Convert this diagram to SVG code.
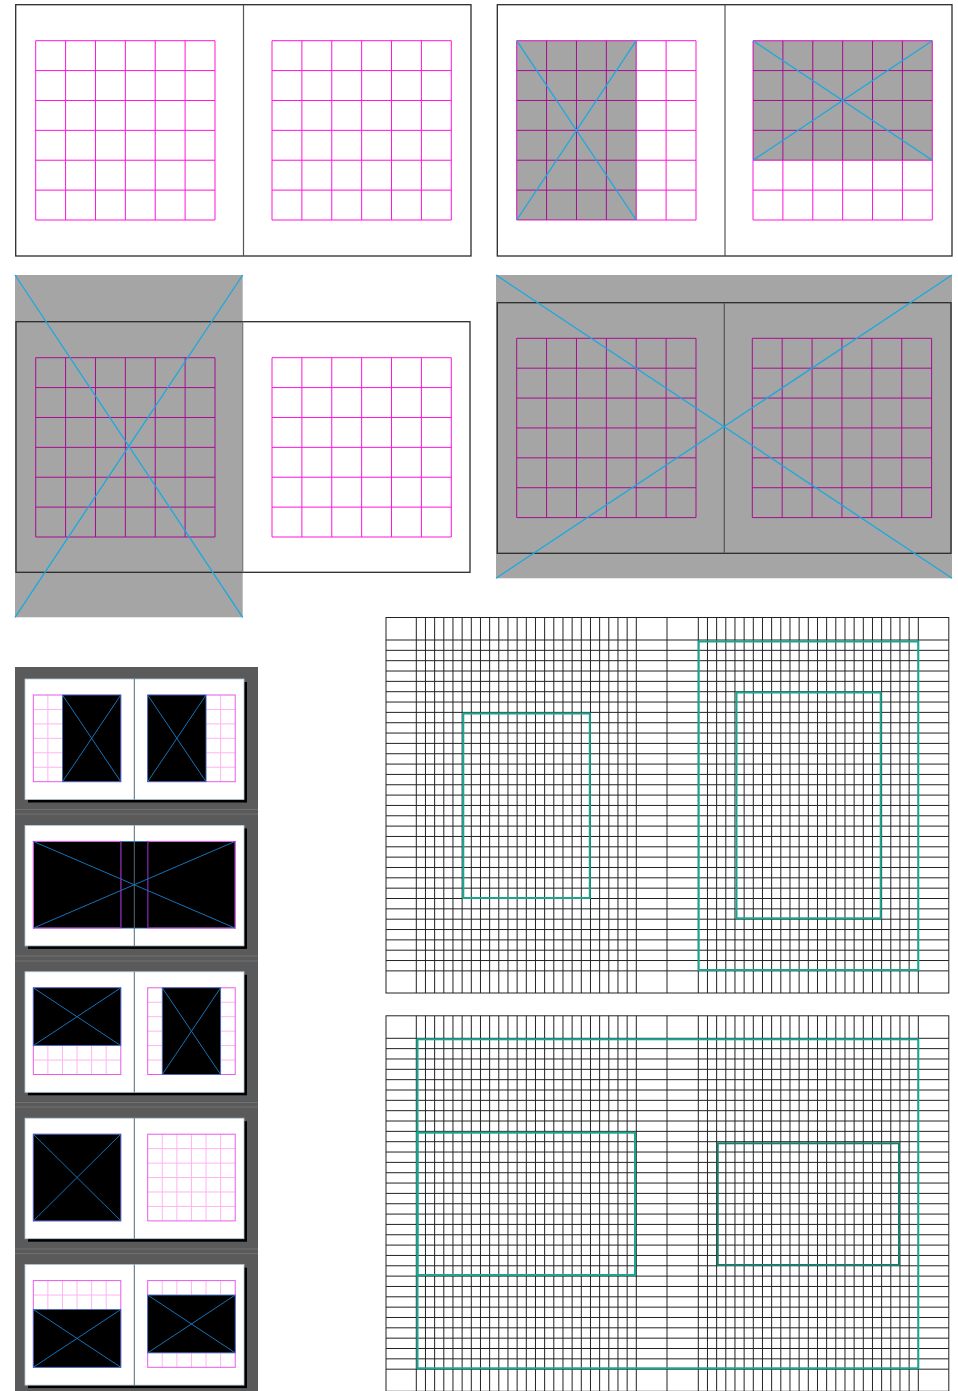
<svg xmlns="http://www.w3.org/2000/svg" xmlns:xlink="http://www.w3.org/1999/xlink" width="958" height="1391" viewBox="0 0 958 1391">
<defs>
<style>
.page{fill:#fff;stroke:#2b2b2b;stroke-width:1.3}
.pageb{fill:none;stroke:#2b2b2b;stroke-width:1.3}
.spine{stroke:#555;stroke-width:1.2}
.mg{fill:none;stroke:#ff14dc;stroke-width:1}
.gray{fill:#a5a5a5;mix-blend-mode:multiply}
.x{stroke:#1ba8e0;stroke-width:1.3;fill:none}
.gl{fill:none;stroke:#222;stroke-width:1}
.teal{fill:none;stroke:#1aa58e;stroke-width:2}
.teal2{fill:none;stroke:#167d6c;stroke-width:2}
.tpage{fill:#fff;stroke:#b0c8dc;stroke-width:.8}
.shadow{fill:#000}
.tg{fill:none;stroke:#ffb4f2;stroke-width:1}
.tgo{fill:none;stroke:#e85ae8;stroke-width:1}
.blk{fill:#000;stroke:#3a78c8;stroke-width:.8}
.tx{stroke:#1572b8;stroke-width:1;fill:none}
.tsp{stroke:#4f6b78;stroke-width:1}
.groove{stroke:#717171;stroke-width:1}
.purp{stroke:#5b1c8c;stroke-width:1.2}
</style>
<path id="g6" d="M0 0H179.3V179.3H0Z M29.88 0V179.3M59.77 0V179.3M89.65 0V179.3M119.53 0V179.3M149.42 0V179.3M0 29.88H179.3M0 59.77H179.3M0 89.65H179.3M0 119.53H179.3M0 149.42H179.3"/>
<path id="tgrid" d="M14.58 0V86.7M29.17 0V86.7M43.75 0V86.7M58.33 0V86.7M72.92 0V86.7M0 14.45H87.5M0 28.9H87.5M0 43.35H87.5M0 57.8H87.5M0 72.25H87.5"/>
<rect id="tout" width="87.5" height="86.7"/>
</defs>
<rect width="958" height="1391" fill="#fff"/>

<g id="spread1">
<rect class="page" x="15.7" y="4.7" width="455.3" height="251.3"/>
<line class="spine" x1="243.5" y1="4.7" x2="243.5" y2="256"/>
<use href="#g6" class="mg" x="35.7" y="40.7"/>
<use href="#g6" class="mg" x="272" y="40.7"/>
</g>

<g id="spread2">
<rect class="page" x="497.3" y="4.7" width="454.7" height="251.3"/>
<line class="spine" x1="725" y1="4.7" x2="725" y2="256"/>
<use href="#g6" class="mg" x="516.7" y="40.7"/>
<use href="#g6" class="mg" x="753" y="40.7"/>
<rect class="gray" x="516.7" y="40.7" width="119.53" height="179.3"/>
<rect class="gray" x="753" y="40.7" width="179.3" height="119.53"/>
<path class="x" d="M516.7 40.7L636.23 220M636.23 40.7L516.7 220M753 40.7L932.3 160.23M932.3 40.7L753 160.23"/>
</g>

<g id="spread3">
<use href="#g6" class="mg" x="35.7" y="357.7"/>
<use href="#g6" class="mg" x="272" y="357.7"/>
<rect class="gray" x="15" y="275" width="227.7" height="342.3"/>
<rect class="pageb" x="16" y="321.7" width="454" height="250.6"/>
<line class="spine" x1="242.7" y1="321.7" x2="242.7" y2="572.3" style="stroke:#777"/>
<path class="x" d="M15 275L242.7 617.3M242.7 275L15 617.3"/>
</g>

<g id="spread4">
<use href="#g6" class="mg" x="516.7" y="338.3"/>
<use href="#g6" class="mg" x="752.3" y="338.3"/>
<rect class="gray" x="496" y="275" width="456" height="303.3"/>
<rect class="pageb" x="497.3" y="302.7" width="453.7" height="250.6"/>
<line class="spine" x1="724.3" y1="302.7" x2="724.3" y2="553.3"/>
<path class="x" d="M496 275L952 578.3M952 275L496 578.3"/>
</g>

<g id="thumbs">
<rect fill="#5a5a5a" x="15" y="667" width="243" height="724"/>
<path class="groove" d="M15 809.5H258M15 814H258M15 956H258M15 961H258M15 1102.5H258M15 1107H258M15 1249H258M15 1253.5H258"/>

<g id="thumb1" transform="translate(25,679)">
<rect class="shadow" x="3" y="3" width="219" height="120.5"/>
<rect class="tpage" width="219" height="120.5"/>
<g transform="translate(8.3,16)"><use href="#tgrid" class="tg"/><use href="#tout" class="tgo"/><rect class="blk" x="29.17" width="58.33" height="86.7"/><path class="tx" d="M29.17 0L87.5 86.7M87.5 0L29.17 86.7"/></g>
<g transform="translate(122.7,16)"><use href="#tgrid" class="tg"/><use href="#tout" class="tgo"/><rect class="blk" width="58.33" height="86.7"/><path class="tx" d="M0 0L58.33 86.7M58.33 0L0 86.7"/></g>
<line class="tsp" x1="109.3" y1="0" x2="109.3" y2="120.5"/>
</g>

<g id="thumb2" transform="translate(25,825.4)">
<rect class="shadow" x="3" y="3" width="219" height="120.5"/>
<rect class="tpage" width="219" height="120.5"/>
<rect class="blk" x="8.3" y="16" width="201.9" height="86.7"/>
<use href="#tout" class="tgo" x="8.3" y="16"/>
<use href="#tout" class="tgo" x="122.7" y="16"/>
<path class="purp" d="M95.8 16V102.7M122.7 16V102.7"/>
<path class="tx" d="M8.3 16L210.2 102.7M210.2 16L8.3 102.7"/>
<line class="tsp" x1="109.3" y1="0" x2="109.3" y2="120.5"/>
</g>

<g id="thumb3" transform="translate(25,971.8)">
<rect class="shadow" x="3" y="3" width="219" height="120.5"/>
<rect class="tpage" width="219" height="120.5"/>
<g transform="translate(8.3,16)"><use href="#tgrid" class="tg"/><use href="#tout" class="tgo"/><rect class="blk" width="87.5" height="57.8"/><path class="tx" d="M0 0L87.5 57.8M87.5 0L0 57.8"/></g>
<g transform="translate(122.7,16)"><use href="#tgrid" class="tg"/><use href="#tout" class="tgo"/><rect class="blk" x="14.58" width="58.34" height="86.7"/><path class="tx" d="M14.58 0L72.92 86.7M72.92 0L14.58 86.7"/></g>
<line class="tsp" x1="109.3" y1="0" x2="109.3" y2="120.5"/>
</g>

<g id="thumb4" transform="translate(25,1118.2)">
<rect class="shadow" x="3" y="3" width="219" height="120.5"/>
<rect class="tpage" width="219" height="120.5"/>
<g transform="translate(8.3,16)"><use href="#tout" class="tgo"/><rect class="blk" width="87.5" height="86.7"/><path class="tx" d="M0 0L87.5 86.7M87.5 0L0 86.7"/></g>
<g transform="translate(122.7,16)"><use href="#tgrid" class="tg"/><use href="#tout" class="tgo"/></g>
<line class="tsp" x1="109.3" y1="0" x2="109.3" y2="120.5"/>
</g>

<g id="thumb5" transform="translate(25,1264.6)">
<rect class="shadow" x="3" y="3" width="219" height="120.5"/>
<rect class="tpage" width="219" height="120.5"/>
<g transform="translate(8.3,16)"><use href="#tgrid" class="tg"/><use href="#tout" class="tgo"/><rect class="blk" y="28.9" width="87.5" height="57.8"/><path class="tx" d="M0 28.9L87.5 86.7M87.5 28.9L0 86.7"/></g>
<g transform="translate(122.7,16)"><use href="#tgrid" class="tg"/><use href="#tout" class="tgo"/><rect class="blk" y="14.45" width="87.5" height="57.8"/><path class="tx" d="M0 14.45L87.5 72.25M87.5 14.45L0 72.25"/></g>
<line class="tsp" x1="109.3" y1="0" x2="109.3" y2="120.5"/>
</g>
</g>

<g id="grid-top">
<g id="gridlines">
<rect class="gl" x="386" y="617.5" width="562.8" height="375.5"/>
<path class="gl" d="M416.3 617.5v375.5m9.167-375.5v375.5m9.167-375.5v375.5m9.167-375.5v375.5m9.167-375.5v375.5m9.167-375.5v375.5m9.167-375.5v375.5m9.167-375.5v375.5m9.167-375.5v375.5m9.167-375.5v375.5m9.167-375.5v375.5m9.167-375.5v375.5m9.167-375.5v375.5m9.167-375.5v375.5m9.167-375.5v375.5m9.167-375.5v375.5m9.167-375.5v375.5m9.167-375.5v375.5m9.167-375.5v375.5m9.167-375.5v375.5m9.167-375.5v375.5m9.167-375.5v375.5m9.167-375.5v375.5m9.167-375.5v375.5m9.167-375.5v375.5M698.3 617.5v375.5m9.167-375.5v375.5m9.167-375.5v375.5m9.167-375.5v375.5m9.167-375.5v375.5m9.167-375.5v375.5m9.167-375.5v375.5m9.167-375.5v375.5m9.167-375.5v375.5m9.167-375.5v375.5m9.167-375.5v375.5m9.167-375.5v375.5m9.167-375.5v375.5m9.167-375.5v375.5m9.167-375.5v375.5m9.167-375.5v375.5m9.167-375.5v375.5m9.167-375.5v375.5m9.167-375.5v375.5m9.167-375.5v375.5m9.167-375.5v375.5m9.167-375.5v375.5m9.167-375.5v375.5m9.167-375.5v375.5m9.167-375.5v375.5M667 617.5v375.5M386 640h562.8m-562.8 10.34h562.8m-562.8 10.34h562.8m-562.8 10.34h562.8m-562.8 10.34h562.8m-562.8 10.34h562.8m-562.8 10.34h562.8m-562.8 10.34h562.8m-562.8 10.34h562.8m-562.8 10.34h562.8m-562.8 10.34h562.8m-562.8 10.34h562.8m-562.8 10.34h562.8m-562.8 10.34h562.8m-562.8 10.34h562.8m-562.8 10.34h562.8m-562.8 10.34h562.8m-562.8 10.34h562.8m-562.8 10.34h562.8m-562.8 10.34h562.8m-562.8 10.34h562.8m-562.8 10.34h562.8m-562.8 10.34h562.8m-562.8 10.34h562.8m-562.8 10.34h562.8m-562.8 10.34h562.8m-562.8 10.34h562.8m-562.8 10.34h562.8m-562.8 10.34h562.8m-562.8 10.34h562.8m-562.8 10.34h562.8m-562.8 10.34h562.8m-562.8 10.34h562.8"/>
</g>
<rect class="teal" x="463.3" y="713.5" width="126.5" height="184.5"/>
<rect class="teal" x="698.7" y="641.5" width="219.6" height="328.5"/>
<rect class="teal" x="736.5" y="692.5" width="144.2" height="225.8"/>
</g>

<g id="grid-bottom">
<use href="#gridlines" y="398.3"/>
<rect class="teal" x="417.5" y="1039.3" width="500.8" height="329"/>
<rect class="teal" x="417.5" y="1132.7" width="217.5" height="142.3"/>
<rect class="teal2" x="717.7" y="1143.3" width="181.3" height="121.7"/>
</g>
</svg>
